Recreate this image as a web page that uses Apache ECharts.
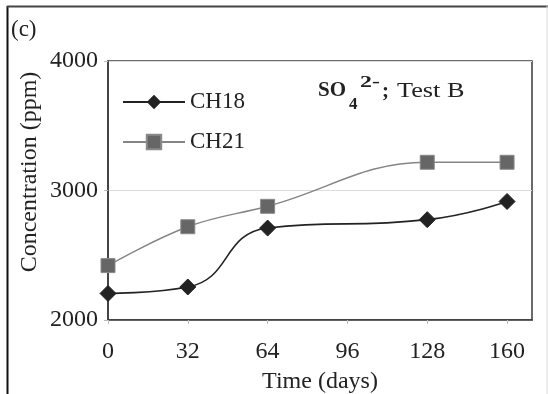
<!DOCTYPE html>
<html>
<head>
<meta charset="utf-8">
<script src="https://cdn.jsdelivr.net/npm/echarts@6/dist/echarts.min.js"></script>
<style>
    html, body { margin: 0; padding: 0; background: #fff; }
    #chart { width: 548px; height: 394px; }
</style>
</head>
<body>
<div id="chart"></div>
<script>
// 数据
var days = [0, 32, 64, 128, 160];
var ch18 = [2205, 2255, 2710, 2775, 2915];
var ch21 = [2420, 2720, 2878, 3218, 3218];
var xTicks = [0, 32, 64, 96, 128, 160];
var yTicks = [2000, 3000, 4000];

var serif = "'Liberation Serif', 'Times New Roman', serif";

function pairs(xs, ys) {
    return xs.map(function (x, i) { return [x, ys[i]]; });
}

var option = {
    backgroundColor: '#ffffff',
    animation: false,
    grid: {
        left: 108,
        right: 16,
        top: 61,
        bottom: 74,
        outerBoundsMode: 'none',
        show: true,
        borderColor: '#3a3a3a',
        borderWidth: 1.5,
        backgroundColor: 'transparent'
    },
    legend: {
        orient: 'vertical',
        left: 117,
        top: 84,
        itemWidth: 62,
        itemHeight: 18,
        itemGap: 14,
        textStyle: { fontFamily: serif, fontSize: 23, color: '#222', lineHeight: 26 },
        data: ['CH18', 'CH21']
    },
    xAxis: {
        type: 'value',
        min: 0,
        max: 170,
        name: 'Time (days)',
        nameLocation: 'middle',
        nameGap: 50,
        nameTextStyle: { fontFamily: serif, fontSize: 24, color: '#222' },
        axisLine: { show: true, lineStyle: { color: '#3a3a3a', width: 1.5 } },
        axisTick: { show: true, length: 4, customValues: xTicks, lineStyle: { color: '#bbb' } },
        axisLabel: { customValues: xTicks, fontFamily: serif, fontSize: 24, color: '#222', margin: 20 },
        splitLine: { show: false }
    },
    yAxis: {
        type: 'value',
        min: 2000,
        max: 4000,
        interval: 1000,
        axisLine: { show: true, lineStyle: { color: '#3a3a3a', width: 1.5 } },
        axisTick: { show: true, length: 4, lineStyle: { color: '#bbb' } },
        axisLabel: {
            customValues: yTicks,
            fontFamily: serif,
            fontSize: 24,
            color: '#222',
            margin: 10,
            formatter: function (v) { return String(v); }
        },
        splitLine: { show: true, lineStyle: { color: '#dddddd', width: 1 } }
    },
    series: [{
        name: 'CH18',
        type: 'line',
        data: pairs(days, ch18),
        smooth: 0.5,
        symbol: 'diamond',
        symbolSize: 16,
        lineStyle: { color: '#222', width: 1.6 },
        itemStyle: { color: '#222', borderColor: '#222' },
        z: 3
    }, {
        name: 'CH21',
        type: 'line',
        data: pairs(days, ch21),
        smooth: 0.4,
        symbol: 'rect',
        symbolSize: 14,
        lineStyle: { color: '#858585', width: 1.4 },
        itemStyle: { color: '#666', borderColor: '#8a8a8a', borderWidth: 1 },
        z: 2
    }],
    graphic: [
        // 外框
        { type: 'line', shape: { x1: 7.5, y1: 6, x2: 7.5, y2: 394 }, style: { stroke: '#111', lineWidth: 2 } },
        { type: 'line', shape: { x1: 7, y1: 6.5, x2: 548, y2: 6.5 }, style: { stroke: '#444', lineWidth: 2 } },
        { type: 'line', shape: { x1: 547, y1: 6, x2: 547, y2: 394 }, style: { stroke: '#ddd', lineWidth: 1 } },
        { type: 'text', x: 11, y: 30, style: { text: '(c)', font: '23px ' + serif, fill: '#222', verticalAlign: 'middle' } },
        // 纵轴标题
        {
            type: 'text', x: 30, y: 172, rotation: Math.PI / 2,
            style: { text: 'Concentration (ppm)', font: '24px ' + serif, fill: '#222', align: 'center', verticalAlign: 'middle' }
        },
        // SO4 2- ; Test B
        { type: 'text', x: 318, y: 91, style: { text: 'SO', font: 'bold 21px ' + serif, fill: '#222', verticalAlign: 'middle' } },
        { type: 'text', x: 349, y: 105, style: { text: '4', font: 'bold 17px ' + serif, fill: '#222', verticalAlign: 'middle' } },
        { type: 'text', x: 360, y: 83, scaleX: 1.4, style: { text: '2-', font: 'bold 17px ' + serif, fill: '#222', verticalAlign: 'middle' } },
        { type: 'text', x: 382, y: 92, style: { text: ';', font: 'bold 21px ' + serif, fill: '#222', verticalAlign: 'middle' } },
        { type: 'text', x: 397, y: 91, scaleX: 1.25, style: { text: 'Test B', font: '21px ' + serif, fill: '#222', verticalAlign: 'middle' } }
    ]
};

var myChart = echarts.init(document.getElementById('chart'));
myChart.setOption(option);
</script>
</body>
</html>
